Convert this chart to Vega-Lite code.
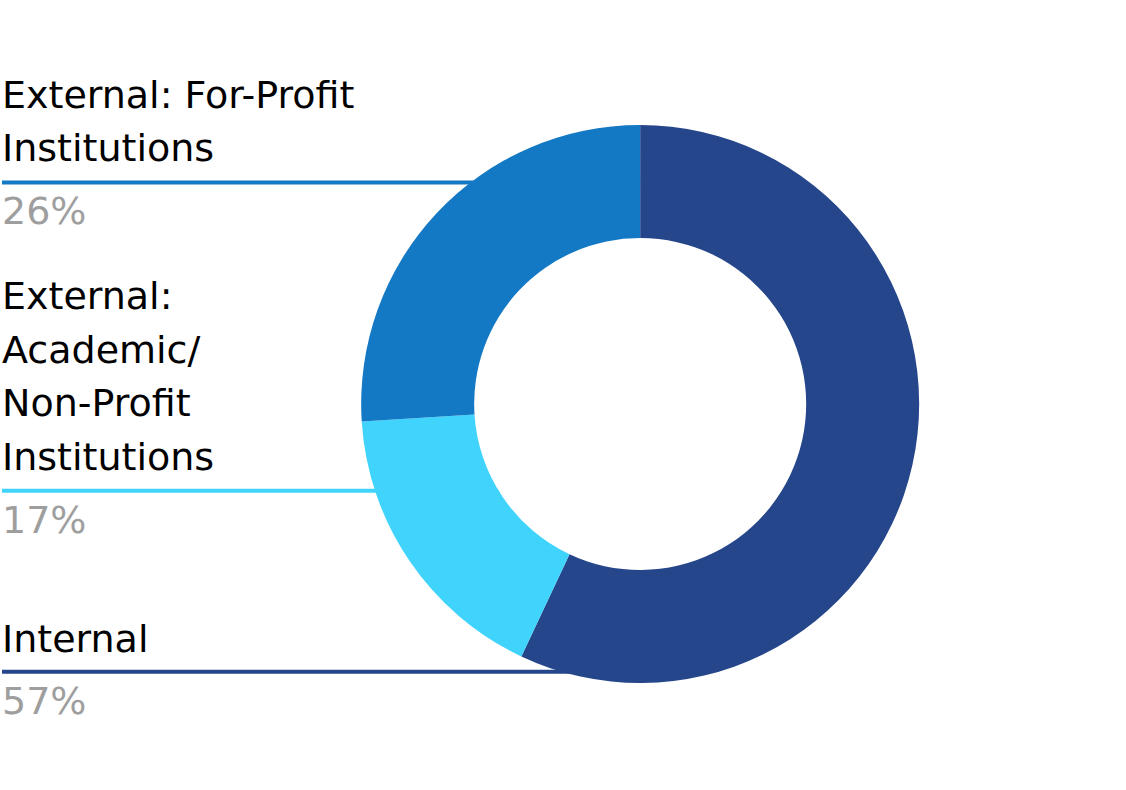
{
  "$schema": "https://vega.github.io/schema/vega-lite/v6.json",
  "width": 1126,
  "height": 790,
  "autosize": {"type": "fit", "contains": "padding"},
  "padding": 0,
  "background": "white",
  "config": {"view": {"stroke": null}, "font": "DejaVu Sans"},
  "data": {
    "values": [
      {"category": "Internal", "label": "Internal", "share": 0.57, "rank": 1},
      {"category": "Academic", "label": "External:\nAcademic/\nNon-Profit\nInstitutions", "share": 0.17, "rank": 2},
      {"category": "ForProfit", "label": "External: For-Profit\nInstitutions", "share": 0.26, "rank": 3}
    ]
  },
  "layer": [
    {
      "transform": [{"filter": "datum.category === 'ForProfit'"}],
      "encoding": {
        "y": {"datum": -0.7939, "type": "quantitative", "scale": {"domain": [-1.448, 1.3835], "reverse": true, "nice": false, "zero": false}, "axis": null}
      },
      "layer": [
        {
          "mark": {"type": "rule", "strokeWidth": 4},
          "encoding": {
            "x": {"datum": -2.2914, "type": "quantitative", "scale": {"domain": [-2.2914, 1.7444], "nice": false, "zero": false}, "axis": null},
            "x2": {"datum": 0},
            "color": {"field": "category", "type": "nominal", "scale": {"domain": ["Internal", "Academic", "ForProfit"], "range": ["#25468A", "#40D4FD", "#1479C4"]}, "legend": null}
          }
        },
        {
          "mark": {"type": "text", "align": "left", "baseline": "alphabetic", "dy": -74.5, "fontSize": 38, "lineHeight": 53.5, "lineBreak": "\n", "color": "#000000"},
          "encoding": {"x": {"datum": -2.2914, "type": "quantitative"}, "text": {"field": "label", "type": "nominal"}}
        },
        {
          "mark": {"type": "text", "align": "left", "baseline": "alphabetic", "dy": 42, "fontSize": 38, "color": "#9E9E9E"},
          "encoding": {"x": {"datum": -2.2914, "type": "quantitative"}, "text": {"field": "share", "type": "quantitative", "format": ".0%"}}
        }
      ]
    },
    {
      "transform": [{"filter": "datum.category === 'Academic'"}],
      "encoding": {"y": {"datum": 0.3111, "type": "quantitative"}},
      "layer": [
        {
          "mark": {"type": "rule", "strokeWidth": 4},
          "encoding": {"x": {"datum": -2.2914, "type": "quantitative"}, "x2": {"datum": 0}, "color": {"field": "category", "type": "nominal"}}
        },
        {
          "mark": {"type": "text", "align": "left", "baseline": "alphabetic", "dy": -181.5, "fontSize": 38, "lineHeight": 53.5, "lineBreak": "\n", "color": "#000000"},
          "encoding": {"x": {"datum": -2.2914, "type": "quantitative"}, "text": {"field": "label", "type": "nominal"}}
        },
        {
          "mark": {"type": "text", "align": "left", "baseline": "alphabetic", "dy": 42, "fontSize": 38, "color": "#9E9E9E"},
          "encoding": {"x": {"datum": -2.2914, "type": "quantitative"}, "text": {"field": "share", "type": "quantitative", "format": ".0%"}}
        }
      ]
    },
    {
      "transform": [{"filter": "datum.category === 'Internal'"}],
      "encoding": {"y": {"datum": 0.9599, "type": "quantitative"}},
      "layer": [
        {
          "mark": {"type": "rule", "strokeWidth": 4},
          "encoding": {"x": {"datum": -2.2914, "type": "quantitative"}, "x2": {"datum": 0}, "color": {"field": "category", "type": "nominal"}}
        },
        {
          "mark": {"type": "text", "align": "left", "baseline": "alphabetic", "dy": -20, "fontSize": 38, "lineHeight": 53.5, "lineBreak": "\n", "color": "#000000"},
          "encoding": {"x": {"datum": -2.2914, "type": "quantitative"}, "text": {"field": "label", "type": "nominal"}}
        },
        {
          "mark": {"type": "text", "align": "left", "baseline": "alphabetic", "dy": 42, "fontSize": 38, "color": "#9E9E9E"},
          "encoding": {"x": {"datum": -2.2914, "type": "quantitative"}, "text": {"field": "share", "type": "quantitative", "format": ".0%"}}
        }
      ]
    },
    {
      "transform": [{"filter": "datum.category === 'Internal'"}],
      "mark": {"type": "arc", "theta": 0, "theta2": 6.2832, "outerRadius": 166, "innerRadius": 0, "color": "#FFFFFF"},
      "encoding": {"x": {"datum": 0, "type": "quantitative"}, "y": {"datum": 0, "type": "quantitative"}}
    },
    {
      "mark": {"type": "arc", "outerRadius": 279, "innerRadius": 166},
      "encoding": {
        "x": {"datum": 0, "type": "quantitative"},
        "y": {"datum": 0, "type": "quantitative"},
        "theta": {"field": "share", "type": "quantitative", "stack": true},
        "order": {"field": "rank", "type": "quantitative", "sort": "ascending"},
        "color": {"field": "category", "type": "nominal"}
      }
    }
  ]
}
